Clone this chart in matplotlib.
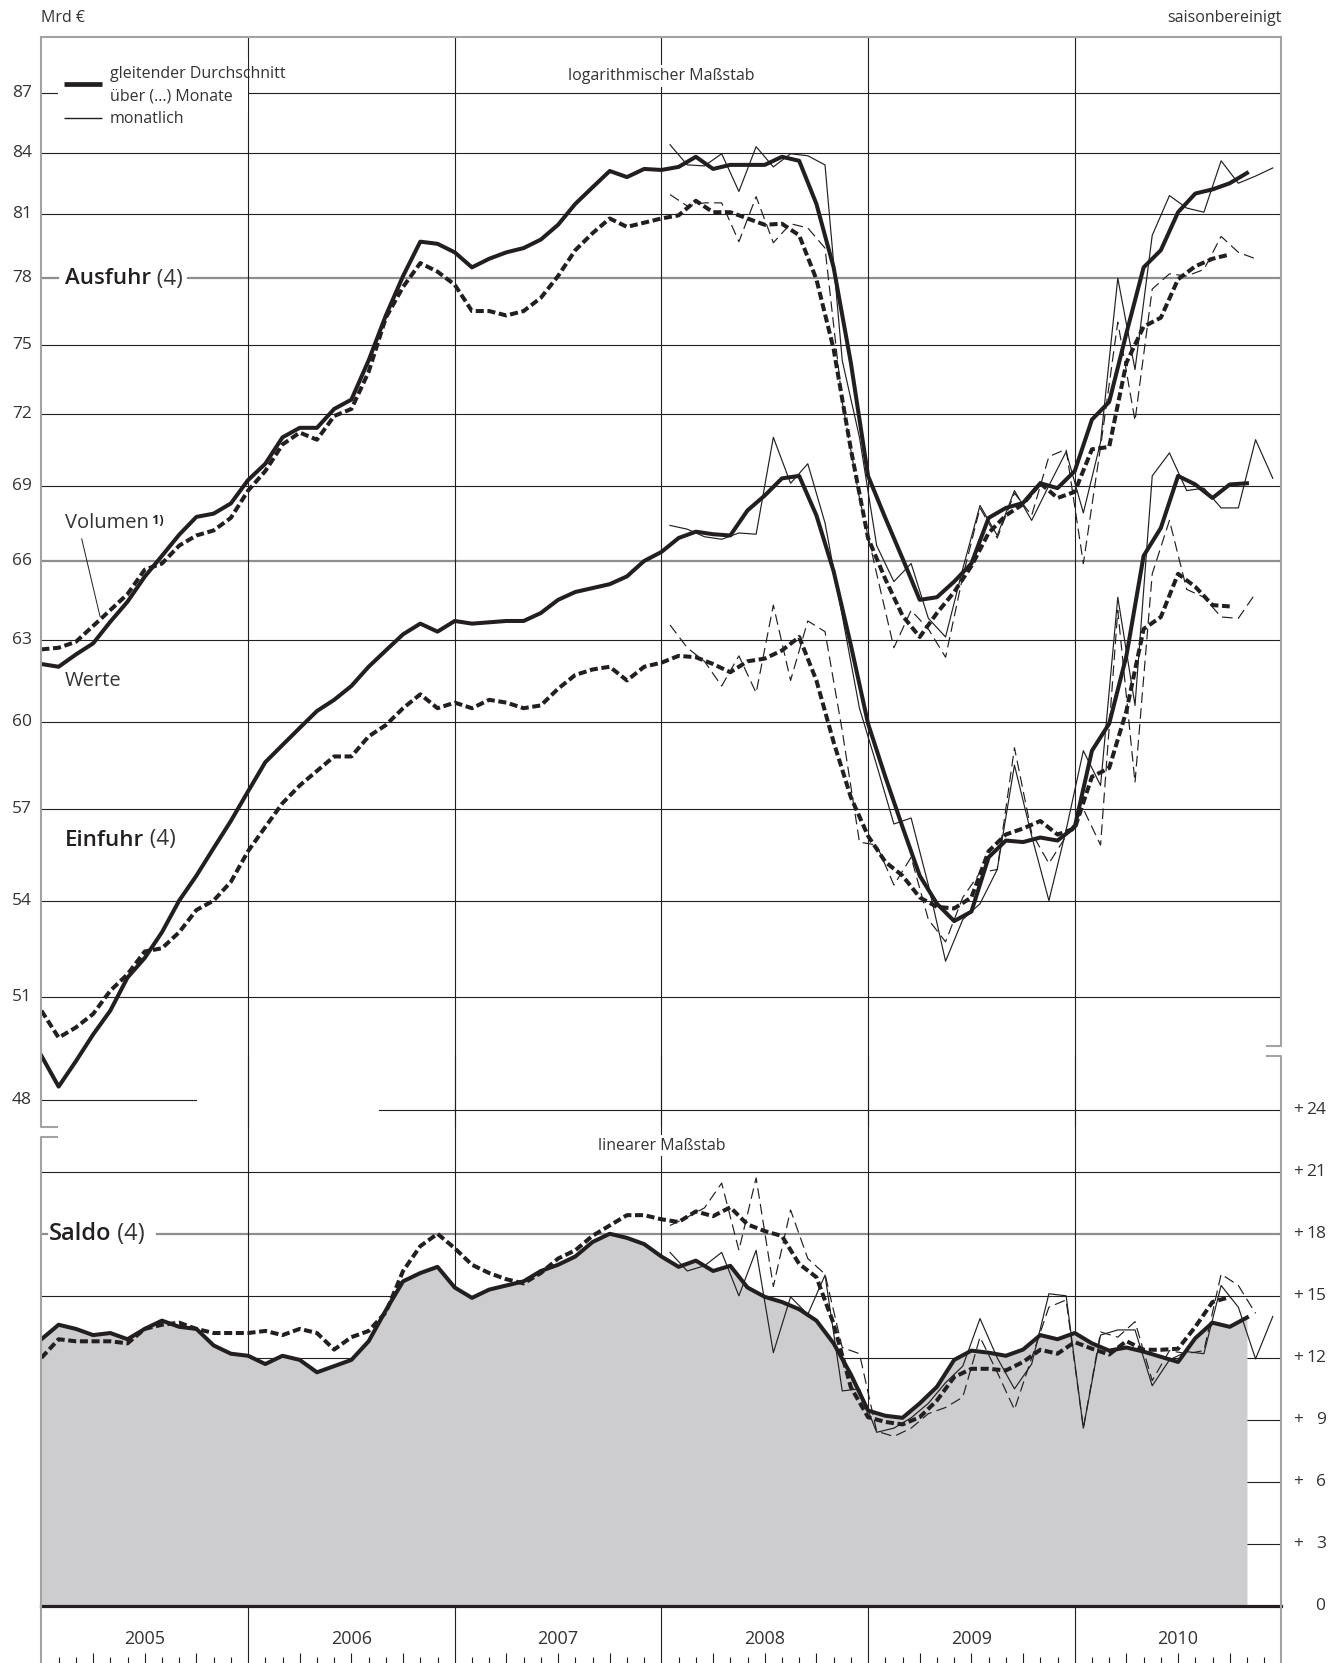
import numpy as np
import matplotlib
matplotlib.use("Agg")
import matplotlib.pyplot as plt
from matplotlib.lines import Line2D
from matplotlib.patches import Rectangle

plt.rcParams['font.family'] = ['Open Sans', 'DejaVu Sans']

# ---------------------------------------------------------------------------
# Data (Mrd Euro, seasonally adjusted)
# moving averages: one value per month boundary from Jan 2005 (index 0)
# monthly values: one value per month from Jan 2008
years = ['2005', '2006', '2007', '2008', '2009', '2010']
first_monthly = 36  # Jan 2008

ausfuhr_werte_ma = [62.1, 62.0, 62.45, 62.86, 63.67, 64.43, 65.39, 66.2, 67.03, 67.74,
                    67.87, 68.28, 69.23, 69.9, 71.0, 71.4, 71.4, 72.2, 72.6, 74.3,
                    76.3, 78.1, 79.7, 79.6, 79.2, 78.5, 78.9, 79.2, 79.4, 79.8,
                    80.5, 81.5, 82.3, 83.1, 82.8, 83.2, 83.15, 83.3, 83.8, 83.2,
                    83.4, 83.4, 83.4, 83.8, 83.6, 81.5, 78.5, 74.2, 69.4, 67.7,
                    66.1, 64.5, 64.6, 65.2, 65.9, 67.7, 68.1, 68.3, 69.1, 68.9,
                    69.6, 71.75, 72.5, 75.5, 78.5, 79.3, 81.1, 82.0, 82.2, 82.5,
                    83.0]
ausfuhr_volumen_ma = [62.64, 62.7, 62.92, 63.51, 64.11, 64.72, 65.66, 65.9, 66.6, 67.0,
                      67.2, 67.7, 68.8, 69.6, 70.7, 71.2, 70.9, 71.9, 72.2, 73.8,
                      76.2, 77.6, 78.7, 78.3, 77.7, 76.5, 76.5, 76.3, 76.5, 77.1,
                      78.1, 79.3, 80.1, 80.8, 80.4, 80.6, 80.8, 80.95, 81.65, 81.1,
                      81.1, 80.8, 80.5, 80.55, 80.0, 77.95, 74.8, 70.5, 66.9, 65.3,
                      63.9, 63.1, 64.0, 64.8, 65.8, 67.1, 67.8, 68.25, 69.1, 68.5,
                      68.75, 70.5, 70.6, 74.2, 75.8, 76.2, 77.95, 78.55, 78.9, 79.1]
ausfuhr_werte_mon = [84.4, 83.4, 83.35, 83.95, 82.1, 84.3, 83.3, 83.95, 83.85, 83.4,
                     74.3, 71.0, 66.6, 65.2, 65.9, 63.8, 63.1, 65.7, 68.2, 67.0,
                     68.8, 67.6, 69.0, 70.4, 67.9, 70.8, 78.0, 73.9, 80.0, 81.9,
                     81.3, 81.1, 83.6, 82.5, 82.85, 83.25]
ausfuhr_volumen_mon = [81.95, 81.4, 81.55, 81.55, 79.7, 81.85, 79.65, 80.55, 80.35, 79.4,
                       72.5, 68.5, 65.5, 62.7, 64.1, 63.4, 62.35, 65.4, 68.1, 66.9,
                       68.7, 67.8, 70.2, 70.5, 65.9, 70.6, 76.0, 71.7, 77.5, 78.2,
                       78.1, 78.4, 79.95, 79.2, 78.9]

einfuhr_werte_ma = [49.27, 48.38, 49.11, 49.89, 50.6, 51.6, 52.2, 53.0, 54.0, 54.8,
                    55.7, 56.6, 57.6, 58.6, 59.2, 59.8, 60.4, 60.8, 61.3, 62.0,
                    62.6, 63.2, 63.6, 63.3, 63.7, 63.6, 63.65, 63.7, 63.7, 64.0,
                    64.5, 64.8, 64.95, 65.1, 65.4, 66.0, 66.35, 66.9, 67.15, 67.05,
                    67.0, 68.0, 68.6, 69.3, 69.4, 67.8, 65.6, 62.8, 59.95, 58.1,
                    56.4, 54.8, 53.9, 53.35, 53.65, 55.4, 55.95, 55.9, 56.05, 55.95,
                    56.4, 59.0, 59.95, 62.4, 66.2, 67.3, 69.4, 69.05, 68.5, 69.05,
                    69.1]
einfuhr_volumen_ma = [50.6, 49.8, 50.1, 50.5, 51.2, 51.7, 52.4, 52.5, 53.0, 53.7,
                      54.0, 54.6, 55.6, 56.4, 57.2, 57.8, 58.3, 58.8, 58.8, 59.5,
                      59.9, 60.5, 61.0, 60.5, 60.7, 60.5, 60.8, 60.7, 60.5, 60.6,
                      61.2, 61.7, 61.9, 62.0, 61.5, 62.0, 62.15, 62.4, 62.35, 62.1,
                      61.8, 62.2, 62.3, 62.6, 63.1, 61.5, 59.3, 57.4, 56.1, 55.25,
                      54.8, 54.1, 53.8, 53.75, 54.1, 55.6, 56.15, 56.35, 56.6, 56.15,
                      56.35, 58.1, 58.4, 60.4, 63.4, 63.85, 65.5, 65.0, 64.3, 64.25]
einfuhr_werte_mon = [67.4, 67.25, 66.95, 66.85, 67.1, 67.05, 71.0, 69.1, 69.9, 67.5,
                     63.9, 60.5, 58.5, 56.5, 56.7, 54.5, 52.1, 53.4, 53.9, 55.0,
                     58.5, 56.1, 54.0, 56.3, 59.0, 57.8, 64.6, 60.6, 69.4, 70.35,
                     68.8, 68.9, 68.1, 68.1, 70.9, 69.3]
einfuhr_volumen_mon = [63.55, 62.7, 62.2, 61.3, 62.4, 61.05, 64.3, 61.5, 63.7, 63.3,
                       59.7, 55.9, 55.8, 54.5, 55.4, 53.4, 52.7, 54.1, 54.9, 55.0,
                       59.1, 56.2, 55.2, 56.1, 57.0, 55.8, 64.1, 57.9, 65.5, 67.6,
                       64.9, 64.6, 63.85, 63.8, 64.75]

saldo_werte_ma = [12.9, 13.6, 13.4, 13.1, 13.2, 12.9, 13.4, 13.8, 13.5, 13.4,
                  12.6, 12.2, 12.1, 11.7, 12.1, 11.9, 11.3, 11.6, 11.9, 12.8,
                  14.3, 15.7, 16.1, 16.4, 15.4, 14.9, 15.3, 15.5, 15.7, 16.2,
                  16.5, 16.9, 17.6, 18.0, 17.8, 17.5, 16.9, 16.4, 16.7, 16.2,
                  16.45, 15.4, 14.95, 14.7, 14.35, 13.8, 12.7, 11.2, 9.45, 9.2,
                  9.1, 9.8, 10.6, 11.9, 12.35, 12.25, 12.1, 12.4, 13.1, 12.9,
                  13.2, 12.7, 12.35, 12.5, 12.3, 12.05, 11.8, 12.95, 13.7, 13.5,
                  13.95]
saldo_volumen_ma = [12.0, 12.9, 12.8, 12.8, 12.8, 12.7, 13.4, 13.6, 13.7, 13.4,
                    13.2, 13.2, 13.2, 13.3, 13.1, 13.4, 13.2, 12.4, 13.0, 13.3,
                    14.2, 16.2, 17.4, 18.0, 17.3, 16.5, 16.1, 15.8, 15.6, 16.1,
                    16.8, 17.2, 17.9, 18.4, 18.9, 18.9, 18.7, 18.57, 19.08, 18.85,
                    19.28, 18.45, 18.13, 17.89, 16.54, 15.9, 13.65, 10.58, 9.13, 8.9,
                    8.78, 9.13, 9.94, 11.07, 11.47, 11.47, 11.39, 11.8, 12.39, 12.2,
                    12.76, 12.44, 12.16, 12.81, 12.39, 12.39, 12.44, 13.5, 14.7, 14.94]
saldo_werte_mon = [17.1, 16.2, 16.45, 17.1, 15.0, 17.2, 12.25, 14.95, 14.1, 16.0,
                   10.4, 10.5, 8.4, 8.6, 9.1, 9.8, 10.8, 11.6, 13.9, 12.0,
                   10.5, 11.7, 15.1, 15.0, 8.6, 13.1, 13.35, 13.35, 10.65, 11.9,
                   12.3, 12.2, 15.5, 14.45, 11.95, 14.0]
saldo_volumen_mon = [18.4, 18.8, 19.25, 20.45, 17.2, 20.7, 15.45, 19.15, 16.8, 16.05,
                     12.5, 12.2, 8.45, 8.2, 8.6, 9.3, 9.6, 10.1, 13.0, 11.3,
                     9.5, 12.0, 14.45, 14.8, 8.6, 13.25, 13.0, 13.75, 10.9, 12.35,
                     12.2, 12.35, 16.05, 15.5, 14.15]

log_ticks = [87, 84, 81, 78, 75, 72, 69, 66, 63, 60, 57, 54, 51, 48]
lin_ticks = [24, 21, 18, 15, 12, 9, 6, 3]

# ---------------------------------------------------------------------------
# Layout (figure pixels)
W, H = 1344, 1663
X0, X1 = 41.4, 1281.4
TOP, TOP_BOT = 37.1, 1126.6
BOT_TOP, ZERO = 1055.5, 1606.0

INK = '#231f20'
TXT = '#333333'
FRAME = '#a3a3a3'
FILL = '#cdcdd0'


def fx(px):
    return px / W


def fy(py):
    return 1 - py / H


def fig_line(xs, ys, **kw):
    fig.add_artist(Line2D([fx(x) for x in xs], [fy(y) for y in ys],
                          transform=fig.transFigure, **kw))


def xf(px):
    """figure pixel x -> axes fraction"""
    return (px - X0) / (X1 - X0)


fig = plt.figure(figsize=(W / 100, H / 100), dpi=100)

ax = fig.add_axes([fx(X0), fy(TOP_BOT), fx(X1 - X0), (TOP_BOT - TOP) / H])
ax.set_yscale('log')
ax.set_ylim(47.25, 89.94)
ax.set_xlim(0, 72)
ax.axis('off')

ax2 = fig.add_axes([fx(X0), fy(ZERO), fx(X1 - X0), (ZERO - BOT_TOP) / H])
ax2.set_ylim(0, 26.62)
ax2.set_xlim(0, 72)
ax2.axis('off')

axd = fig.add_axes([fx(X0), 0, fx(X1 - X0), (H - ZERO) / H])
axd.set_xlim(0, 72)
axd.set_ylim(H - ZERO, 0)
axd.axis('off')

grid_kw = dict(color=INK, lw=0.8, zorder=1)
gray_kw = dict(color='#8e8e8e', lw=1.6, zorder=1)

# gridlines upper (log) panel
for v in log_ticks:
    if v == 87:
        ax.axhline(v, xmin=0, xmax=xf(58), **grid_kw)
        ax.axhline(v, xmin=xf(248), xmax=1, **grid_kw)
    elif v == 78:
        ax.axhline(v, xmin=0, xmax=xf(58), **gray_kw)
        ax.axhline(v, xmin=xf(188), xmax=1, **gray_kw)
    elif v == 66:
        ax.axhline(v, **gray_kw)
    elif v == 48:
        ax.axhline(v, xmin=0, xmax=xf(196), **grid_kw)
    else:
        ax.axhline(v, **grid_kw)
for i in range(1, 6):
    ax.axvline(12 * i, **grid_kw)

# gridlines lower (linear) panel
for v in lin_ticks:
    if v == 24:
        ax2.axhline(v, xmin=xf(379), xmax=1, **grid_kw)
    elif v == 18:
        ax2.axhline(v, xmin=0, xmax=xf(47), **gray_kw)
        ax2.axhline(v, xmin=xf(157), xmax=1, **gray_kw)
    else:
        ax2.axhline(v, **grid_kw)
for i in range(1, 6):
    ax2.axvline(12 * i, **grid_kw)

# ---------------------------------------------------------------------------
thick = dict(color=INK, lw=2.9, zorder=4)
thick_d = dict(color=INK, lw=2.9, zorder=4, linestyle=(0, (2.0, 0.9)))
thin = dict(color=INK, lw=0.85, zorder=3)
thin_d = dict(color=INK, lw=0.85, zorder=3, linestyle=(0, (9, 4.5)))


def ma_x(vals):
    return np.arange(len(vals))


def mon_x(vals):
    return first_monthly + 0.5 + np.arange(len(vals))


for w_ma, v_ma, w_mon, v_mon in [
        (ausfuhr_werte_ma, ausfuhr_volumen_ma, ausfuhr_werte_mon, ausfuhr_volumen_mon),
        (einfuhr_werte_ma, einfuhr_volumen_ma, einfuhr_werte_mon, einfuhr_volumen_mon)]:
    ax.plot(mon_x(v_mon), v_mon, **thin_d)
    ax.plot(mon_x(w_mon), w_mon, **thin)
    ax.plot(ma_x(v_ma), v_ma, **thick_d)
    ax.plot(ma_x(w_ma), w_ma, **thick)

ax2.fill_between(ma_x(saldo_werte_ma), saldo_werte_ma, 0, color=FILL, lw=0, zorder=2)
ax2.plot(mon_x(saldo_volumen_mon), saldo_volumen_mon, **thin_d)
ax2.plot(mon_x(saldo_werte_mon), saldo_werte_mon, **thin)
ax2.plot(ma_x(saldo_volumen_ma), saldo_volumen_ma, **thick_d)
ax2.plot(ma_x(saldo_werte_ma), saldo_werte_ma, **thick)
ax2.axhline(0, color=INK, lw=2.3, zorder=6, clip_on=False)

# ---------------------------------------------------------------------------
# frame
frame_kw = dict(color=FRAME, lw=1.5, zorder=5)
fig_line([X0, X1], [TOP, TOP], **frame_kw)
fig_line([57.4, X0, X0], [TOP_BOT, TOP_BOT, TOP], **frame_kw)
fig_line([57.4, X0, X0], [1137.0, 1137.0, H], **frame_kw)
fig_line([X1, X1, 1266.7], [TOP, 1046.0, 1046.0], **frame_kw)
fig_line([1266.7, X1, X1], [BOT_TOP, BOT_TOP, H], **frame_kw)

# date strip
strip_h = H - ZERO
axd.vlines([12 * i for i in range(1, 6)], 0, strip_h, color=INK, lw=0.8)
for m in range(1, 72):
    if m % 12 == 0:
        continue
    length = 10 if m % 3 == 0 else 6.5
    axd.vlines(m, strip_h - length, strip_h, color=INK, lw=0.8)
for i, yr in enumerate(years):
    axd.text(12 * i + 6, 33, yr, ha='center', va='center', fontsize=13, color=TXT)

# axis labels
for v in log_ticks:
    ax.text(xf(32), v, str(v), transform=ax.get_yaxis_transform(),
            ha='right', va='center', fontsize=12.5, color=TXT)
for v in lin_ticks:
    ax2.text(xf(1298), v, '+', transform=ax2.get_yaxis_transform(),
             ha='center', va='center', fontsize=12.5, color=TXT)
    ax2.text(xf(1326), v, str(v), transform=ax2.get_yaxis_transform(),
             ha='right', va='center', fontsize=12.5, color=TXT)
ax2.text(xf(1325), 0, '0', transform=ax2.get_yaxis_transform(),
         ha='right', va='center', fontsize=12.5, color=TXT)

fig.text(fx(X0), fy(18), 'Mrd €', ha='left', va='center', fontsize=11.5, color=TXT)
fig.text(fx(X1), fy(18), 'saisonbereinigt', ha='right', va='center', fontsize=11.5, color=TXT)

# legend
fig.add_artist(Rectangle((fx(58), fy(113.3)), fx(248 - 58), (113.3 - 58.3) / H,
                         transform=fig.transFigure, facecolor='white',
                         edgecolor='none', zorder=3))
fig_line([64, 101.7], [84.3, 84.3], color=INK, lw=3.4, zorder=4, solid_capstyle='butt')
fig_line([64, 101.7], [118.3, 118.3], color=INK, lw=1.0, zorder=4, solid_capstyle='butt')
fig.text(fx(110), fy(74), 'gleitender Durchschnitt', ha='left', va='center',
         fontsize=11.5, color=TXT, zorder=5)
fig.text(fx(110), fy(96.5), 'über (...) Monate', ha='left', va='center',
         fontsize=11.5, color=TXT, zorder=5)
fig.text(fx(110), fy(119), 'monatlich', ha='left', va='center',
         fontsize=11.5, color=TXT, zorder=5)

# scale notes
for axis, y, txt in [(ax, 87.9, 'logarithmischer Maßstab'), (ax2, 22.26, 'linearer Maßstab')]:
    axis.text(36, y, txt, ha='center', va='center', fontsize=11.5, color=TXT, zorder=5,
              bbox=dict(facecolor='white', edgecolor='none', pad=2))

# series labels
for x, y, name, size in [(64.7, 279, 'Ausfuhr', 16), (64.7, 840, 'Einfuhr', 16),
                         (48.8, 1233.7, 'Saldo', 17)]:
    t = fig.text(fx(x), fy(y), name, ha='left', va='center', fontsize=size,
                 fontweight='semibold', color=INK, zorder=5)
    ax.annotate(' (4)', xy=(1, 0), xycoords=t, ha='left', va='bottom',
                fontsize=size, color=TXT, zorder=5, annotation_clip=False)

t = fig.text(fx(64.7), fy(523), 'Volumen', ha='left', va='center', fontsize=14.5, color=TXT)
ax.annotate(' 1)', xy=(1, 1), xycoords=t, ha='left', va='top', xytext=(0, -1),
            textcoords='offset points', fontsize=9, fontweight='bold', color=INK,
            annotation_clip=False)
fig.text(fx(64.7), fy(681), 'Werte', ha='left', va='center', fontsize=14.5, color=TXT)
fig_line([81.7, 100], [538.9, 616.3], color=INK, lw=0.7, zorder=5)

fig.savefig('out.png', dpi=100)
